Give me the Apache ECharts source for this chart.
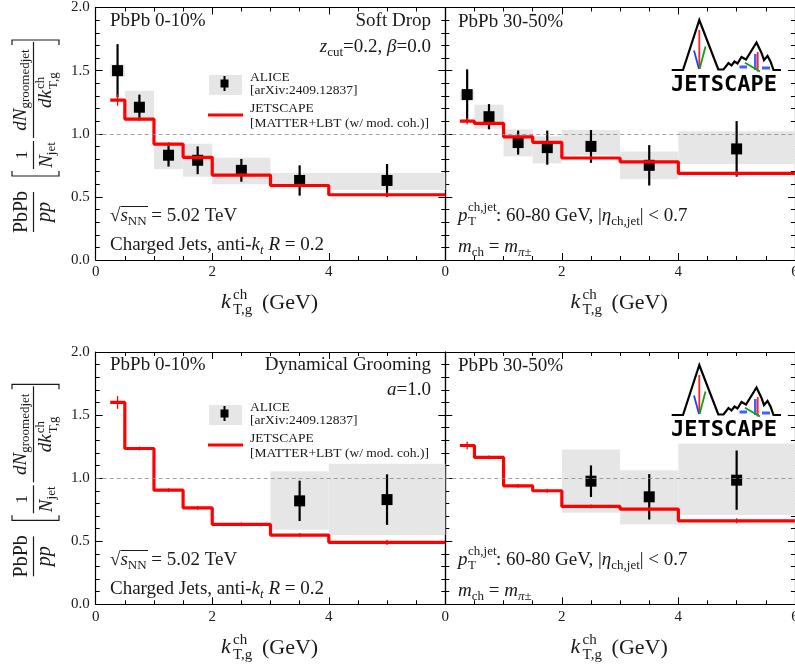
<!DOCTYPE html>
<html>
<head>
<meta charset="utf-8">
<script src="https://cdn.jsdelivr.net/npm/echarts@6.0.0/dist/echarts.min.js"></script>
<style>
  html, body { margin: 0; padding: 0; background: #fff; }
  #chart { width: 795px; height: 666px; }
</style>
</head>
<body>
<div id="chart"></div>
<script>
// k_T,g bins (GeV)
const binLo = [0.25, 0.5, 1, 1.5, 2, 3, 4];
const binHi = [0.5, 1, 1.5, 2, 3, 4, 6];
const binMid = [0.375, 0.75, 1.25, 1.75, 2.5, 3.5, 5];
const allBins = [0, 1, 2, 3, 4, 5, 6];

// Soft Drop zcut=0.2, beta=0, PbPb 0-10%
const sd010Val = [1.50, 1.21, 0.83, 0.79, 0.71, 0.63, 0.63];
const sd010Stat = [0.21, 0.10, 0.09, 0.11, 0.09, 0.12, 0.13];
const sd010SysLo = [1.45, 1.10, 0.72, 0.66, 0.60, 0.575, 0.555];
const sd010SysHi = [1.55, 1.34, 0.92, 0.92, 0.81, 0.69, 0.69];
const sd010Jet = [1.267, 1.116, 0.918, 0.813, 0.673, 0.59, 0.517];
const sd010JetErr = [0.045, 0.015, 0.015, 0.015, 0.015, 0.015, 0.02];

// Soft Drop, PbPb 30-50%
const sd3050Val = [1.31, 1.135, 0.93, 0.89, 0.90, 0.75, 0.88];
const sd3050Stat = [0.20, 0.10, 0.095, 0.135, 0.13, 0.16, 0.22];
const sd3050SysLo = [1.27, 1.04, 0.82, 0.765, 0.83, 0.64, 0.76];
const sd3050SysHi = [1.34, 1.23, 1.035, 0.98, 1.03, 0.86, 1.02];
const sd3050Jet = [1.10, 1.082, 0.976, 0.932, 0.808, 0.778, 0.686];
const sd3050JetErr = [0.025, 0.015, 0.015, 0.015, 0.015, 0.015, 0.02];

// Dynamical Grooming a=1.0, PbPb 0-10% (ALICE only in the last two bins)
const dg010Bins = [5, 6];
const dg010Val = [0.82, 0.83];
const dg010Stat = [0.16, 0.20];
const dg010SysLo = [0.59, 0.55];
const dg010SysHi = [1.055, 1.115];
const dg010Jet = [1.60, 1.235, 0.905, 0.765, 0.633, 0.549, 0.491];
const dg010JetErr = [0.05, 0.015, 0.015, 0.015, 0.015, 0.015, 0.02];

// Dynamical Grooming, PbPb 30-50%
const dg3050Bins = [4, 5, 6];
const dg3050Val = [0.976, 0.852, 0.984];
const dg3050Stat = [0.125, 0.18, 0.235];
const dg3050SysLo = [0.725, 0.633, 0.707];
const dg3050SysHi = [1.227, 1.063, 1.275];
const dg3050Jet = [1.259, 1.164, 0.939, 0.90, 0.776, 0.755, 0.662];
const dg3050JetErr = [0.03, 0.015, 0.015, 0.015, 0.015, 0.015, 0.02];

const xTicks = [0, 2, 4, 6];
const yTicks = [0, 0.5, 1, 1.5, 2];

const SERIF = "'Liberation Serif', 'DejaVu Serif', serif";
const INK = '#1a1a1a';
const RED = '#ff0000';
const BOX = '#e6e6e6';

function font(size, italic) {
  return (italic ? 'italic ' : '') + size + 'px ' + SERIF;
}

function richStyles(size) {
  const s = Math.round(size * 0.68);
  return {
    n: { font: font(size), lineHeight: size + 5 },
    i: { font: font(size, true), lineHeight: size + 5 },
    s: { font: font(s), lineHeight: s, verticalAlign: 'bottom' },
    si: { font: font(s, true), lineHeight: s, verticalAlign: 'bottom' }
  };
}

function label(x, y, text, o) {
  o = o || {};
  const size = o.size || 19;
  const style = {
    text: text, fill: INK, font: font(size, o.italic),
    align: o.align || 'left', textAlign: o.align || 'left',
    verticalAlign: o.va || 'middle', textVerticalAlign: o.va || 'middle'
  };
  if (o.rich) style.rich = richStyles(size);
  return { type: 'text', x: x, y: y, silent: true, style: style };
}

function seg(x1, y1, x2, y2, color, w) {
  return { type: 'line', silent: true, shape: { x1, y1, x2, y2 }, style: { stroke: color || INK, lineWidth: w || 1 } };
}

function poly(points, color, w) {
  return { type: 'polyline', silent: true, shape: { points }, style: { stroke: color || INK, lineWidth: w || 1, fill: null } };
}

// y axis title, drawn rotated
function yTitle(gy) {
  return {
    type: 'group', x: 33.5, y: gy, rotation: Math.PI / 2, silent: true,
    children: [
      label(28, -2, 'PbPb', { align: 'center', va: 'bottom', size: 20 }),
      label(28, 1, 'pp', { align: 'center', va: 'top', size: 20, italic: true }),
      seg(8, 0, 48, 0, INK, 1.2),
      poly([[69, -21.5], [64, -21.5], [64, 25.5], [69, 25.5]], INK, 1.2),
      label(85, -2, '1', { align: 'center', va: 'bottom', size: 17 }),
      label(85, 1, '{i|N}{s|jet}', { align: 'center', va: 'top', size: 19, rich: true }),
      seg(71, 0, 99, 0, INK, 1.2),
      label(150, -1, '{i|dN}{s|groomedjet}', { align: 'center', va: 'bottom', size: 19, rich: true }),
      seg(102, 0, 198, 0, INK, 1.2),
      label(150, 12, 'dk', { align: 'right', size: 19, italic: true }),
      label(151, 7, 'ch', { size: 13 }),
      label(151, 20, 'T,g', { size: 13 }),
      poly([[195, -21.5], [200, -21.5], [200, 25.5], [195, 25.5]], INK, 1.2)
    ]
  };
}

function xTitle(ox, dy) {
  return [
    label(221 + ox, 302 + dy, 'k', { size: 22, italic: true }),
    label(233 + ox, 295 + dy, 'ch', { size: 15 }),
    label(233 + ox, 310 + dy, 'T,g', { size: 15 }),
    label(262 + ox, 303 + dy, '(GeV)', { size: 22 })
  ];
}

function legend(dy) {
  return [
    { type: 'rect', silent: true, shape: { x: 209, y: 75 + dy, width: 33, height: 20 }, style: { fill: BOX } },
    seg(224.5, 76 + dy, 224.5, 91 + dy, '#000', 2),
    { type: 'rect', silent: true, shape: { x: 220.5, y: 79.5 + dy, width: 8, height: 8 }, style: { fill: '#000' } },
    seg(208, 115 + dy, 243, 115 + dy, RED, 3.2),
    label(250, 77 + dy, 'ALICE', { size: 13.5 }),
    label(250, 90.5 + dy, '[arXiv:2409.12837]', { size: 13.5 }),
    label(250, 108.5 + dy, 'JETSCAPE', { size: 13.5 }),
    label(250, 123.5 + dy, '[MATTER+LBT (w/ mod. coh.)]', { size: 13.5 })
  ];
}

function logo(dy) {
  const p = pts => pts.map(q => [q[0], q[1] + dy]);
  return [
    poly(p([[671.7, 70], [683, 70], [699.3, 20], [718.3, 69.5], [723.5, 69.5], [728.5, 63], [731.5, 65.5],
      [734.5, 61.5], [737.5, 63.5], [741.5, 57], [746, 59.5], [756.5, 42.5], [761.5, 53], [764, 60],
      [767.5, 56], [770.5, 61.5], [773.5, 70], [781, 70]]), '#000', 2.2),
    seg(699.3, 30 + dy, 699.3, 69 + dy, '#ff2020', 1.8),
    seg(694, 50.5 + dy, 699, 69 + dy, '#2040ff', 1.8),
    seg(705.5, 46.5 + dy, 699.6, 69 + dy, '#10a010', 1.8),
    seg(739.5, 67 + dy, 747, 67 + dy, '#4060ff', 3),
    seg(755.3, 54 + dy, 755.3, 70 + dy, '#4060ff', 2.5),
    seg(762, 68 + dy, 770, 68 + dy, '#4060ff', 3),
    seg(757.7, 52 + dy, 757.7, 71.5 + dy, '#ff2020', 1.8),
    seg(745, 62.7 + dy, 760, 71.5 + dy, '#10a010', 1.8),
    { type: 'text', silent: true, x: 671, y: 85 + dy,
      style: { text: 'JETSCAPE', fill: '#000', font: "bold 22px 'DejaVu Sans Mono', monospace",
        align: 'left', textAlign: 'left', verticalAlign: 'middle', textVerticalAlign: 'middle' } }
  ];
}

function panelTexts(dy, grooming, param) {
  return [
    label(110, 21 + dy, 'PbPb 0-10%'),
    label(431, 21 + dy, grooming, { align: 'right' }),
    label(431, (dy ? 46 : 47) + dy, param, { align: 'right', rich: true }),
    label(110, 216 + dy, '{n|\u221A}{i|s}{s|NN}{n| = 5.02 TeV}', { rich: true }),
    seg(120.5, 206.5 + dy, 148, 206.5 + dy, INK, 1),
    label(110, 245 + dy, '{n|Charged Jets, anti-}{i|k}{si|t}{n| }{i|R}{n| = 0.2}', { rich: true }),
    label(458, 22 + dy, 'PbPb 30-50%'),
    label(458, 216 + dy, 'p', { italic: true }),
    label(468, 208 + dy, 'ch,jet', { size: 13 }),
    label(468, 222 + dy, 'T', { size: 13 }),
    label(496, 216 + dy, '{n|: 60-80 GeV, |}{i|\u03B7}{s|ch,jet}{n|| < 0.7}', { rich: true }),
    label(458, 247 + dy, '{i|m}{s|ch}{n| = }{i|m}{si|\u03C0}{s|\u00B1}', { rich: true })
  ];
}

function renderBox(params, api) {
  const a = api.coord([api.value(0), api.value(3)]);
  const b = api.coord([api.value(1), api.value(2)]);
  return { type: 'rect', shape: { x: a[0], y: a[1], width: b[0] - a[0], height: b[1] - a[1] }, style: { fill: BOX } };
}

function renderBar(color, w) {
  return function (params, api) {
    const a = api.coord([api.value(0), api.value(1)]);
    const b = api.coord([api.value(0), api.value(2)]);
    return { type: 'line', shape: { x1: a[0], y1: a[1], x2: b[0], y2: b[1] }, style: { stroke: color, lineWidth: w } };
  };
}

function panelSeries(g, bins, val, stat, sysLo, sysHi, jet, jetErr) {
  const ax = { xAxisIndex: 2 * g, yAxisIndex: 2 * g };
  const last = jet.length - 1;
  return [
    Object.assign({ type: 'custom', z: 1, silent: true, renderItem: renderBox,
      data: bins.map((b, i) => [binLo[b], binHi[b], sysLo[i], sysHi[i]]) }, ax),
    Object.assign({ type: 'line', z: 2, silent: true, data: [],
      markLine: { silent: true, symbol: ['none', 'none'], label: { show: false },
        lineStyle: { color: '#8a8a8a', type: [4, 3], width: 0.8 }, data: [{ yAxis: 1 }] } }, ax),
    Object.assign({ type: 'custom', z: 3, silent: true, renderItem: renderBar('#000', 2.2),
      data: bins.map((b, i) => [binMid[b], val[i] - stat[i], val[i] + stat[i]]) }, ax),
    Object.assign({ type: 'scatter', z: 3, silent: true, symbol: 'rect', symbolSize: 11,
      itemStyle: { color: '#000', opacity: 1 }, data: bins.map((b, i) => [binMid[b], val[i]]) }, ax),
    Object.assign({ type: 'line', z: 4, silent: true, step: 'end', showSymbol: false, symbol: 'none',
      lineStyle: { color: RED, width: 3.2 },
      data: binLo.map((e, i) => [e, jet[i]]).concat([[binHi[last], jet[last]]]) }, ax),
    Object.assign({ type: 'custom', z: 4, silent: true, renderItem: renderBar(RED, 1.3),
      data: binMid.map((m, i) => [m, jet[i] - jetErr[i], jet[i] + jetErr[i]]) }, ax)
  ];
}

const grids = [
  { left: 95.7, top: 7.5, width: 349.6, height: 252.5 },
  { left: 445.3, top: 7.5, width: 349.6, height: 252.5 },
  { left: 95.7, top: 352, width: 349.6, height: 252.3 },
  { left: 445.3, top: 352, width: 349.6, height: 252.3 }
].map(g => Object.assign({ outerBoundsMode: 'none', containLabel: false }, g));

const axisLine = { show: true, onZero: false, lineStyle: { color: '#000', width: 1.2 } };
const xAxes = [];
const yAxes = [];
grids.forEach((g, gi) => {
  const leftPanel = gi % 2 === 0;
  const xBase = {
    type: 'value', gridIndex: gi, min: xTicks[0], max: xTicks[xTicks.length - 1], interval: 2,
    axisLine: axisLine, splitLine: { show: false },
    axisTick: { inside: true, length: 7, lineStyle: { color: '#000' } },
    minorTick: { show: true, splitNumber: 4, length: 4, lineStyle: { color: '#000' } }
  };
  xAxes.push(Object.assign({}, xBase, {
    position: 'bottom',
    axisLabel: { show: true, margin: 5, color: INK, fontFamily: SERIF, fontSize: 15, showMaxLabel: !leftPanel }
  }));
  xAxes.push(Object.assign({}, xBase, { position: 'top', axisLabel: { show: false } }));
  const yBase = {
    type: 'value', gridIndex: gi, min: yTicks[0], max: yTicks[yTicks.length - 1], interval: 0.5,
    axisLine: axisLine, splitLine: { show: false },
    axisTick: { inside: true, length: 7, lineStyle: { color: '#000' } },
    minorTick: { show: true, splitNumber: 5, length: 4, lineStyle: { color: '#000' } }
  };
  yAxes.push(Object.assign({}, yBase, {
    position: 'left',
    axisLabel: { show: leftPanel, margin: 6, color: INK, fontFamily: SERIF, fontSize: 15, formatter: v => v.toFixed(1) }
  }));
  yAxes.push(Object.assign({}, yBase, { position: 'right', axisLabel: { show: false } }));
});

const series = [].concat(
  panelSeries(0, allBins, sd010Val, sd010Stat, sd010SysLo, sd010SysHi, sd010Jet, sd010JetErr),
  panelSeries(1, allBins, sd3050Val, sd3050Stat, sd3050SysLo, sd3050SysHi, sd3050Jet, sd3050JetErr),
  panelSeries(2, dg010Bins, dg010Val, dg010Stat, dg010SysLo, dg010SysHi, dg010Jet, dg010JetErr),
  panelSeries(3, dg3050Bins, dg3050Val, dg3050Stat, dg3050SysLo, dg3050SysHi, dg3050Jet, dg3050JetErr)
);

const graphics = [].concat(
  [yTitle(240), yTitle(584.3)],
  xTitle(0, 0), xTitle(349.6, 0), xTitle(0, 345), xTitle(349.6, 345),
  legend(0), legend(330),
  logo(0), logo(345),
  panelTexts(0, 'Soft Drop', '{i|z}{s|cut}{n|=0.2, }{i|\u03B2}{n|=0.0}'),
  panelTexts(344, 'Dynamical Grooming', '{i|a}{n|=1.0}')
);

const chart = echarts.init(document.getElementById('chart'), null, { renderer: 'canvas' });
chart.setOption({
  animation: false,
  backgroundColor: '#fff',
  grid: grids,
  xAxis: xAxes,
  yAxis: yAxes,
  series: series,
  graphic: { elements: graphics }
});
</script>
</body>
</html>
